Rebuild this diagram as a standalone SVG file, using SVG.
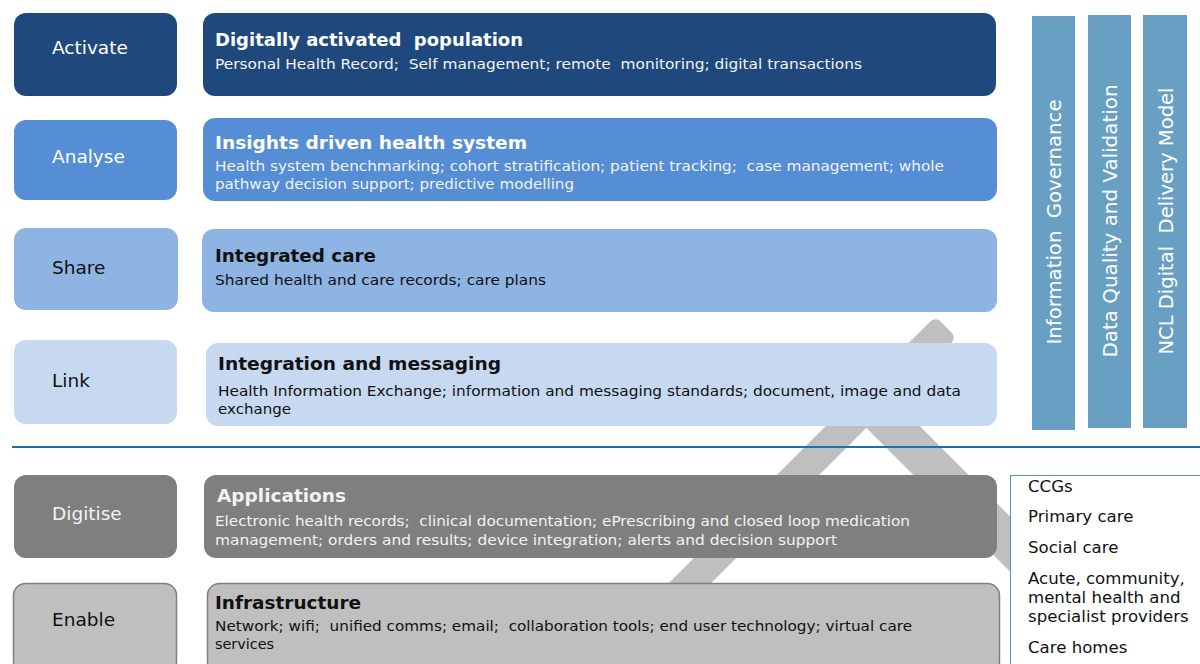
<svg xmlns="http://www.w3.org/2000/svg" width="1200" height="664" viewBox="0 0 1200 664">
<style>
text { font-family: "DejaVu Sans", Verdana, sans-serif; white-space: pre; }
.lbl { font-size: 18.5px; }
.ttl { font-size: 18px; font-weight: bold; }
.sub { font-size: 14px; }
.lt { fill: #FFFFFF; }
.lt2 { fill: #F2F2F2; }
.dk { fill: #111111; }
.bar { fill: #689FC2; }
.vt { font-size: 19.5px; fill: #FFFFFF; text-anchor: middle; }
.li { font-size: 16.6px; fill: #111111; }
.c1 { fill: #1F497D; }
.c2 { fill: #558ED5; }
.c3 { fill: #8EB4E3; }
.c4 { fill: #C6D9F1; }
.c5 { fill: #7F7F7F; }
.c6 { fill: #BFBFBF; stroke: #7F7F7F; stroke-width: 1.5; }
.band { fill: #BFBFBF; }
</style>
<rect width="1200" height="664" fill="#FFFFFF"/>

<g id="backdrop">
  <rect class="band" x="0" y="-15" width="520" height="30" rx="7" transform="translate(946,327) rotate(135)"/>
  <rect class="band" x="0" y="-19.5" width="265" height="39" rx="4" transform="translate(870,404) rotate(45)"/>
</g>

<g id="connectors">
  <line x1="12" y1="447" x2="1200" y2="447" stroke="#1F6FAB" stroke-width="2"/>
</g>

<g id="activate-label">
  <rect class="c1" x="14" y="13" width="163" height="83" rx="12"/>
  <text class="lbl lt" x="52" y="54">Activate</text>
</g>
<g id="analyse-label">
  <rect class="c2" x="14" y="120" width="163" height="80" rx="12"/>
  <text class="lbl lt" x="52" y="163">Analyse</text>
</g>
<g id="share-label">
  <rect class="c3" x="14" y="228" width="164" height="82" rx="12"/>
  <text class="lbl dk" x="52" y="274">Share</text>
</g>
<g id="link-label">
  <rect class="c4" x="14" y="340" width="163" height="84" rx="12"/>
  <text class="lbl dk" x="52" y="387">Link</text>
</g>
<g id="digitise-label">
  <rect class="c5" x="14" y="475" width="163" height="83" rx="12"/>
  <text class="lbl lt2" x="52" y="520">Digitise</text>
</g>
<g id="enable-label">
  <rect class="c6" x="13.5" y="583.5" width="163" height="90" rx="12"/>
  <text class="lbl dk" x="52" y="626">Enable</text>
</g>

<g id="activate-box">
  <rect class="c1" x="203" y="13" width="793" height="83" rx="12"/>
  <text class="ttl lt" x="215" y="46" textLength="308" lengthAdjust="spacingAndGlyphs" xml:space="preserve">Digitally activated  population</text>
  <text class="sub lt2" x="215" y="69" textLength="647" lengthAdjust="spacingAndGlyphs" xml:space="preserve">Personal Health Record;  Self management; remote  monitoring; digital transactions</text>
</g>
<g id="analyse-box">
  <rect class="c2" x="203" y="118" width="794" height="83" rx="12"/>
  <text class="ttl lt" x="215" y="149" textLength="312" lengthAdjust="spacingAndGlyphs">Insights driven health system</text>
  <text class="sub lt2" x="215" y="171" textLength="729" lengthAdjust="spacingAndGlyphs" xml:space="preserve">Health system benchmarking; cohort stratification; patient tracking;  case management; whole</text>
  <text class="sub lt2" x="215" y="189" textLength="359" lengthAdjust="spacingAndGlyphs">pathway decision support; predictive modelling</text>
</g>
<g id="share-box">
  <rect class="c3" x="202" y="229" width="795" height="83" rx="12"/>
  <text class="ttl dk" x="215" y="262" textLength="161" lengthAdjust="spacingAndGlyphs">Integrated care</text>
  <text class="sub dk" x="215" y="285" textLength="331" lengthAdjust="spacingAndGlyphs">Shared health and care records; care plans</text>
</g>
<g id="link-box">
  <rect class="c4" x="206" y="343" width="791" height="83" rx="12"/>
  <text class="ttl dk" x="218" y="370" textLength="283" lengthAdjust="spacingAndGlyphs">Integration and messaging</text>
  <text class="sub dk" x="218" y="396" textLength="743" lengthAdjust="spacingAndGlyphs">Health Information Exchange; information and messaging standards; document, image and data</text>
  <text class="sub dk" x="218" y="414" textLength="73" lengthAdjust="spacingAndGlyphs">exchange</text>
</g>
<g id="digitise-box">
  <rect class="c5" x="204" y="475" width="793" height="83" rx="12"/>
  <text class="ttl lt2" x="217" y="502" textLength="129" lengthAdjust="spacingAndGlyphs">Applications</text>
  <text class="sub lt2" x="215" y="526" textLength="695" lengthAdjust="spacingAndGlyphs" xml:space="preserve">Electronic health records;  clinical documentation; ePrescribing and closed loop medication</text>
  <text class="sub lt2" x="215" y="545" textLength="622" lengthAdjust="spacingAndGlyphs">management; orders and results; device integration; alerts and decision support</text>
</g>
<g id="enable-box">
  <rect class="c6" x="207.5" y="583.5" width="792" height="90" rx="12"/>
  <text class="ttl dk" x="215" y="609" textLength="146" lengthAdjust="spacingAndGlyphs">Infrastructure</text>
  <text class="sub dk" x="215" y="631" textLength="697" lengthAdjust="spacingAndGlyphs" xml:space="preserve">Network; wifi;  unified comms; email;  collaboration tools; end user technology; virtual care</text>
  <text class="sub dk" x="215" y="649" textLength="59" lengthAdjust="spacingAndGlyphs">services</text>
</g>

<g id="information-governance">
  <rect class="bar" x="1032" y="16" width="43" height="414"/>
  <text class="vt" transform="translate(1061,222) rotate(-90)" textLength="245" lengthAdjust="spacingAndGlyphs" xml:space="preserve">Information  Governance</text>
</g>
<g id="data-quality">
  <rect class="bar" x="1088" y="15" width="43" height="413"/>
  <text class="vt" transform="translate(1117,221) rotate(-90)" textLength="273" lengthAdjust="spacingAndGlyphs">Data Quality and Validation</text>
</g>
<g id="ncl-digital">
  <rect class="bar" x="1143" y="15" width="44" height="413"/>
  <text class="vt" transform="translate(1173,221) rotate(-90)" textLength="267" lengthAdjust="spacingAndGlyphs" xml:space="preserve">NCL Digital  Delivery Model</text>
</g>

<g id="organisations">
  <rect x="1010.5" y="475.5" width="200" height="200" fill="#FFFFFF" stroke="#5B8FD0" stroke-width="1"/>
  <text class="li" x="1028" y="492">CCGs</text>
  <text class="li" x="1028" y="522">Primary care</text>
  <text class="li" x="1028" y="553">Social care</text>
  <text class="li" x="1028" y="584">Acute, community,</text>
  <text class="li" x="1028" y="603">mental health and</text>
  <text class="li" x="1028" y="622">specialist providers</text>
  <text class="li" x="1028" y="653">Care homes</text>
</g>
</svg>
